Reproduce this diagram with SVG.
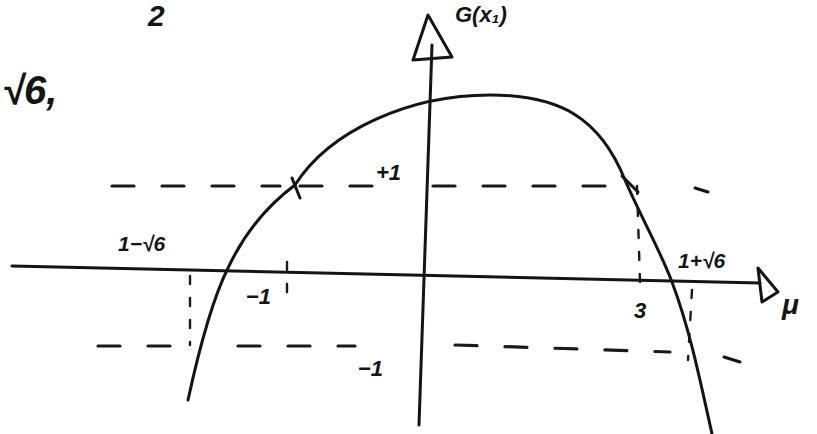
<svg xmlns="http://www.w3.org/2000/svg" width="817" height="434" viewBox="0 0 817 434">
<style>
.ink{fill:none;stroke:#141414;stroke-width:3;stroke-linecap:round;stroke-linejoin:round}
.dash{fill:none;stroke:#1a1a1a;stroke-width:3.2;stroke-linecap:round;stroke-dasharray:22 28}
.dot{fill:none;stroke:#1a1a1a;stroke-width:2.4;stroke-linecap:round;stroke-dasharray:8 14}
.t{font-family:"Liberation Sans",Arial,sans-serif;font-style:italic;font-weight:bold;fill:#141414}
</style>
<rect width="817" height="434" fill="#fff"/>
<g id="header-text">
<text class="t" x="148" y="26" font-size="30">2</text>
<text class="t" x="2" y="104" font-size="40">√6,</text>
<text class="t" x="455" y="22" font-size="22">G(x₁)</text>
</g>
<g id="axes">
<path class="ink" d="M12,266 L760,283"/>
<path class="ink" d="M758,268 L762,302 L778,292 Z"/>
<text class="t" x="782" y="314" font-size="28">μ</text>
<path class="ink" d="M432,45 L419,425"/>
<path class="ink" d="M428,15 L413,60 L452,57 Z"/>
</g>
<g id="guides">
<path class="dash" d="M112,186 L280,186"/>
<path class="dash" d="M300,186 L375,186"/>
<path class="dash" d="M433,186 L610,186"/>
<path class="ink" d="M695,188 L708,192"/>
<path class="ink" d="M292,178 L300,198"/>
<path class="ink" d="M622,176 L638,192"/>
<path class="dash" d="M98,346 L190,346"/>
<path class="dash" d="M238,346 L355,346"/>
<path class="dash" d="M455,345 L670,352"/>
<path class="ink" d="M724,357 L740,362"/>
<path class="dot" d="M190,276 L190,345"/>
<path class="dot" d="M287,262 L287,300"/>
<path class="dot" d="M637,186 L640,282"/>
<path class="dot" d="M692,290 L688,360"/>
</g>
<g id="curve">
<path class="ink" d="M188,400 C200,345 212,300 228,268 C245,232 268,205 295,185 C330,130 410,95 490,95 C560,95 600,118 625,180 C640,215 660,250 672,282 C690,330 700,380 712,434"/>
</g>
<g id="labels">
<text class="t" x="376" y="180" font-size="22">+1</text>
<text class="t" x="118" y="251" font-size="21">1−√6</text>
<text class="t" x="678" y="268" font-size="21">1+√6</text>
<text class="t" x="246" y="304" font-size="22">−1</text>
<text class="t" x="634" y="318" font-size="22">3</text>
<text class="t" x="358" y="376" font-size="22">−1</text>
</g>
</svg>
